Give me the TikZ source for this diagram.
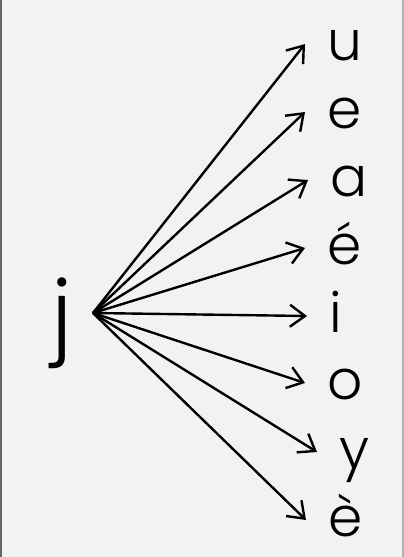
\documentclass[tikz,border=0pt]{standalone}
\usepackage{fontspec}
\setmainfont{Poppins}[UprightFont=* Light]
\usetikzlibrary{arrows.meta}

\tikzset{
  lbl/.style={anchor=west,font=\fontsize{55}{55}\selectfont,text height=32pt,text depth=0pt,inner ysep=0pt,inner xsep=22pt},
  arr/.style={-{Straight Barb[length=15pt,width=22pt]},line width=2.4pt}
}

\begin{document}
\begin{tikzpicture}[x=1pt,y=-1pt]
\useasboundingbox (0,0) rectangle (404,557);
\fill[gray!10] (0,0) rectangle (404,557);
\draw[gray!80!black,line width=1.5pt] (1,0)--(1,557);
\draw[gray!60,line width=1.2pt] (403,0)--(403,557);
\node[anchor=east,font=\fontsize{90}{90}\selectfont,text height=64pt,text depth=0pt,inner ysep=0pt,inner xsep=20pt] at (93,313) (j) {j};
\node[lbl] at (305,44) (u) {u};
\node[lbl] at (305,112) (e) {e};
\node[lbl] at (308,180) (a) {a};
\node[lbl] at (305,248) (eacute) {é};
\node[lbl] at (307,316) (i) {i};
\node[lbl] at (305,383) (o) {o};
\node[lbl] at (317,452) (y) {y};
\node[lbl] at (306,520) (egrave) {è};
\draw[arr] (j.east)--(u.west);
\draw[arr] (j.east)--(e.west);
\draw[arr] (j.east)--(a.west);
\draw[arr] (j.east)--(eacute.west);
\draw[arr] (j.east)--(i.west);
\draw[arr] (j.east)--(o.west);
\draw[arr] (j.east)--(y.west);
\draw[arr] (j.east)--(egrave.west);
\end{tikzpicture}
\end{document}
